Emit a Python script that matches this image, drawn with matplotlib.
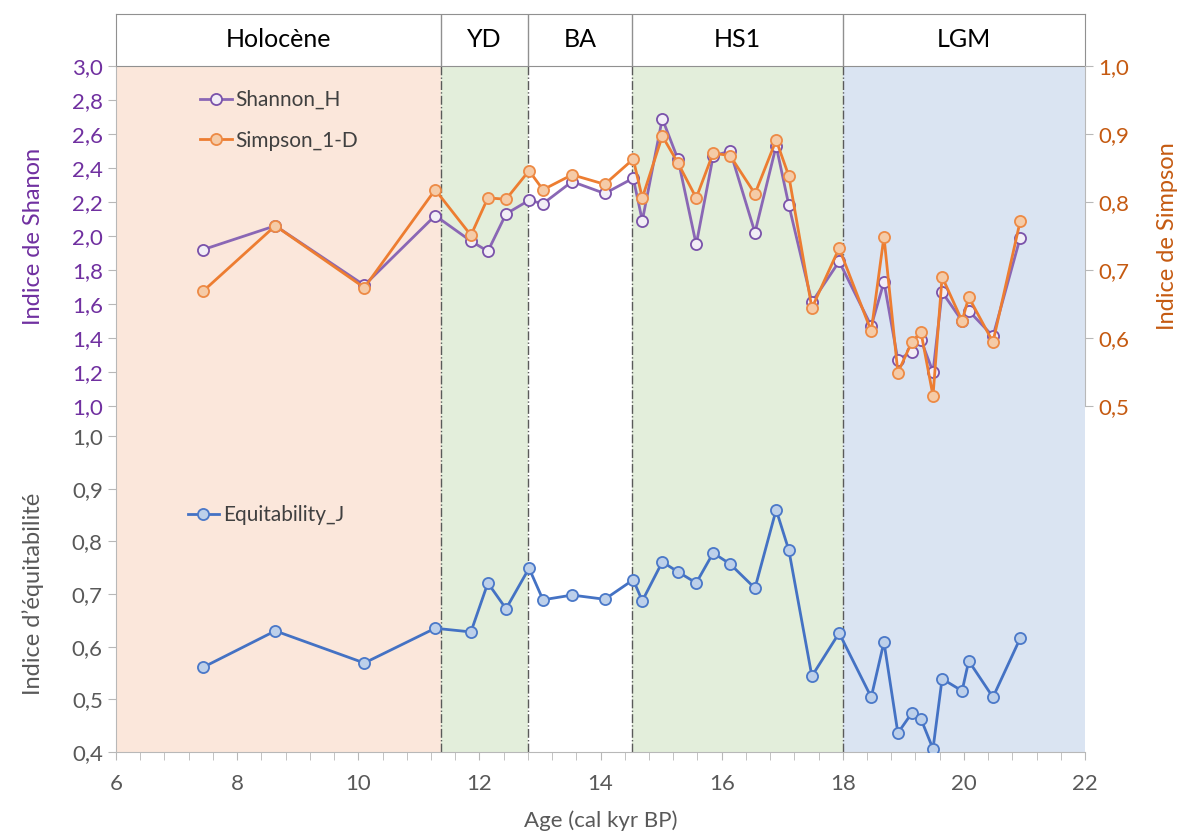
import matplotlib.pyplot as plt
from matplotlib.ticker import MultipleLocator, FuncFormatter

plt.rcParams['font.family'] = ['Lato', 'DejaVu Sans']

# ages (cal kyr BP)
age = [7.44, 8.63, 10.10, 11.27, 11.86, 12.14, 12.44, 12.82, 13.05, 13.53,
       14.07, 14.54, 14.69, 15.02, 15.28, 15.58, 15.86, 16.14, 16.55, 16.90,
       17.11, 17.49, 17.94, 18.47, 18.68, 18.91, 19.14, 19.29, 19.49, 19.64,
       19.97, 20.08, 20.48, 20.93]

shannon = [1.92, 2.06, 1.71, 2.12, 1.97, 1.91, 2.13, 2.21, 2.19, 2.32,
           2.25, 2.34, 2.09, 2.69, 2.45, 1.95, 2.47, 2.50, 2.02, 2.53,
           2.18, 1.61, 1.85, 1.47, 1.73, 1.27, 1.32, 1.39, 1.20, 1.67,
           1.50, 1.56, 1.41, 1.99]

simpson = [0.669, 0.765, 0.674, 0.818, 0.751, 0.806, 0.804, 0.846, 0.818, 0.840,
           0.826, 0.863, 0.806, 0.897, 0.857, 0.806, 0.872, 0.868, 0.812, 0.891,
           0.838, 0.644, 0.732, 0.610, 0.749, 0.549, 0.594, 0.609, 0.515, 0.690,
           0.625, 0.660, 0.594, 0.772]

equit = [0.561, 0.630, 0.569, 0.635, 0.628, 0.721, 0.672, 0.749, 0.689, 0.698,
         0.690, 0.727, 0.687, 0.761, 0.742, 0.721, 0.778, 0.757, 0.711, 0.860,
         0.783, 0.544, 0.626, 0.504, 0.609, 0.436, 0.474, 0.463, 0.406, 0.539,
         0.516, 0.573, 0.504, 0.616]

# periods
periods = ['Holocène', 'YD', 'BA', 'HS1', 'LGM']
bounds = [6, 11.37, 12.8, 14.52, 18, 22]
shade = ['#FBE7DB', '#E3EEDB', '#FFFFFF', '#E3EEDB', '#DAE4F2']

gray = '#595959'
purple = '#7030A0'
orange = '#C55A11'

comma = FuncFormatter(lambda v, p: f"{v:.1f}".replace('.', ','))

fig = plt.figure(figsize=(11.84, 8.35), dpi=100)
L, W = 0.098, 0.8184

# background axes: shading + x axis
ax_bg = fig.add_axes([L, 0.0994, W, 0.8216])
ax_bg.set_xlim(6, 22)
ax_bg.set_ylim(0, 1)
for i in range(len(periods)):
    ax_bg.axvspan(bounds[i], bounds[i + 1], color=shade[i], lw=0, zorder=0)
for b in bounds[1:-1]:
    ax_bg.axvline(b, color='#5a5a5a', ls='-.', lw=1, zorder=1)
ax_bg.set_yticks([])
for s in ['top', 'right']:
    ax_bg.spines[s].set_visible(False)
for s in ['left', 'bottom']:
    ax_bg.spines[s].set_color('#b8b8b8')
ax_bg.xaxis.set_major_locator(MultipleLocator(2))
ax_bg.xaxis.set_minor_locator(MultipleLocator(0.4))
ax_bg.tick_params(axis='x', which='both', colors='#b8b8b8', labelcolor=gray,
                  labelsize=16, length=6, pad=10)
ax_bg.set_xlabel('Age (cal kyr BP)', fontsize=16, color=gray, labelpad=12)

# header boxes
ax_h = fig.add_axes([L, 0.921, W, 0.0623])
ax_h.set_xlim(6, 22)
ax_h.set_ylim(0, 1)
ax_h.set_xticks([])
ax_h.set_yticks([])
for s in ax_h.spines.values():
    s.set_color('#909090')
for b in bounds[1:-1]:
    ax_h.axvline(b, color='#909090', lw=1)
for i, p in enumerate(periods):
    ax_h.text((bounds[i] + bounds[i + 1]) / 2, 0.5, p, ha='center', va='center',
              fontsize=18, color='black')

# top panel: Shannon
ax_t = fig.add_axes([L, 0.5138, W, 0.4072])
ax_t.patch.set_alpha(0)
ax_t.set_xlim(6, 22)
ax_t.set_ylim(1.0, 3.0)
ax_t.set_xticks([])
ax_t.set_yticks([1.0 + 0.2 * i for i in range(11)])
ax_t.yaxis.set_major_formatter(comma)
ax_t.tick_params(axis='y', colors='#b8b8b8', labelcolor=purple, labelsize=16, length=6)
for s in ax_t.spines.values():
    s.set_visible(False)
ax_t.set_ylabel('Indice de Shanon', color=purple, fontsize=17, labelpad=20)

h1, = ax_t.plot(age, shannon, color='#8A67B5', lw=2, marker='o', ms=8,
                mfc='#F2EEF6', mec='#7A52AA', mew=1.3, label='Shannon_H', zorder=3)

ax_s = ax_t.twinx()
ax_s.set_xlim(6, 22)
ax_s.set_ylim(0.5, 1.0)
ax_s.set_yticks([0.5, 0.6, 0.7, 0.8, 0.9, 1.0])
ax_s.yaxis.set_major_formatter(comma)
ax_s.tick_params(axis='y', colors='#b8b8b8', labelcolor=orange, labelsize=16, length=6)
for s in ['top', 'left', 'bottom']:
    ax_s.spines[s].set_visible(False)
ax_s.spines['right'].set_color('#b8b8b8')
ax_s.set_ylabel('Indice de Simpson', color=orange, fontsize=17, labelpad=20)
h2, = ax_s.plot(age, simpson, color='#ED7D31', lw=2, marker='o', ms=8,
                mfc='#F5CBA7', mec='#ED8A45', mew=1.3, label='Simpson_1-D', zorder=2)

ax_s.legend(handles=[h1, h2], loc='center left', bbox_to_anchor=(0.087, 0.84),
            frameon=False, fontsize=15, labelspacing=1.0, handlelength=1.5,
            handletextpad=0.2, borderpad=0, borderaxespad=0, labelcolor='#404040')

# bottom panel: equitability
ax_b = fig.add_axes([L, 0.0994, W, 0.3784])
ax_b.patch.set_alpha(0)
ax_b.set_xlim(6, 22)
ax_b.set_ylim(0.4, 1.0)
ax_b.set_xticks([])
ax_b.set_yticks([0.4, 0.5, 0.6, 0.7, 0.8, 0.9, 1.0])
ax_b.yaxis.set_major_formatter(comma)
ax_b.tick_params(axis='y', colors='#b8b8b8', labelcolor=gray, labelsize=16, length=6)
for s in ax_b.spines.values():
    s.set_visible(False)
ax_b.set_ylabel('Indice d’équitabilité', color=gray, fontsize=17, labelpad=20)
h3, = ax_b.plot(age, equit, color='#4472C4', lw=2, marker='o', ms=8,
                mfc='#BDD0EA', mec='#4A78C8', mew=1.3, label='Equitability_J', zorder=3)
ax_b.legend(handles=[h3], loc='center left', bbox_to_anchor=(0.074, 0.75),
            frameon=False, fontsize=15, handlelength=1.5, handletextpad=0.2,
            borderpad=0, borderaxespad=0, labelcolor='#404040')

fig.savefig('out.png', dpi=100)
